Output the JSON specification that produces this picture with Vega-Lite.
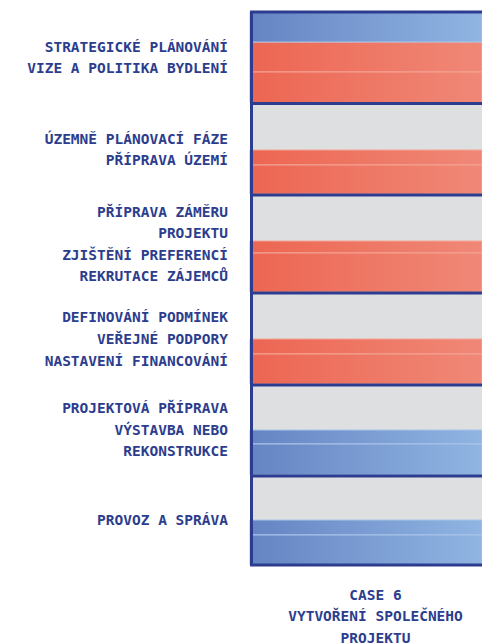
{
  "$schema": "https://vega.github.io/schema/vega-lite/v6.json",
  "autosize": {"type": "none"},
  "padding": {"left": 250, "top": 12, "right": 0, "bottom": 78},
  "width": 232,
  "height": 553,
  "background": "#ffffff",
  "config": {"view": {"stroke": null}},
  "datasets": {
    "segments": [
      {"group": 1, "start": 0, "end": 30, "kind": "blue"},
      {"group": 1, "start": 30, "end": 60, "kind": "red"},
      {"group": 1, "start": 60, "end": 91, "kind": "red"},
      {"group": 2, "start": 92, "end": 138, "kind": "gray"},
      {"group": 2, "start": 138, "end": 153, "kind": "red"},
      {"group": 2, "start": 153, "end": 182, "kind": "red"},
      {"group": 3, "start": 184, "end": 229, "kind": "gray"},
      {"group": 3, "start": 229, "end": 241, "kind": "red"},
      {"group": 3, "start": 241, "end": 280, "kind": "red"},
      {"group": 4, "start": 282, "end": 327, "kind": "gray"},
      {"group": 4, "start": 327, "end": 342, "kind": "red"},
      {"group": 4, "start": 342, "end": 372, "kind": "red"},
      {"group": 5, "start": 374, "end": 418, "kind": "gray"},
      {"group": 5, "start": 418, "end": 432, "kind": "blue"},
      {"group": 5, "start": 432, "end": 463, "kind": "blue"},
      {"group": 6, "start": 465, "end": 508, "kind": "gray"},
      {"group": 6, "start": 508, "end": 523, "kind": "blue"},
      {"group": 6, "start": 523, "end": 553, "kind": "blue"}
    ],
    "borders": [
      {"pos": 0}, {"pos": 91.5}, {"pos": 183}, {"pos": 281}, {"pos": 373}, {"pos": 464}, {"pos": 553}
    ],
    "labels": [
      {"group": 1, "pos": 36, "line": "STRATEGICKÉ PLÁNOVÁNÍ"},
      {"group": 1, "pos": 57, "line": "VIZE A POLITIKA BYDLENÍ"},
      {"group": 2, "pos": 128, "line": "ÚZEMNĚ PLÁNOVACÍ FÁZE"},
      {"group": 2, "pos": 149, "line": "PŘÍPRAVA ÚZEMÍ"},
      {"group": 3, "pos": 201, "line": "PŘÍPRAVA ZÁMĚRU"},
      {"group": 3, "pos": 222, "line": "PROJEKTU"},
      {"group": 3, "pos": 244, "line": "ZJIŠTĚNÍ PREFERENCÍ"},
      {"group": 3, "pos": 265, "line": "REKRUTACE ZÁJEMCŮ"},
      {"group": 4, "pos": 306, "line": "DEFINOVÁNÍ PODMÍNEK"},
      {"group": 4, "pos": 328, "line": "VEŘEJNÉ PODPORY"},
      {"group": 4, "pos": 350, "line": "NASTAVENÍ FINANCOVÁNÍ"},
      {"group": 5, "pos": 397, "line": "PROJEKTOVÁ PŘÍPRAVA"},
      {"group": 5, "pos": 419, "line": "VÝSTAVBA NEBO"},
      {"group": 5, "pos": 440, "line": "REKONSTRUKCE"},
      {"group": 6, "pos": 509, "line": "PROVOZ A SPRÁVA"}
    ]
  },
  "layer": [
    {
      "data": {"name": "segments"},
      "transform": [{"filter": "datum.kind === 'gray'"}],
      "mark": {"type": "rect", "color": "#dedfe1"},
      "encoding": {
        "x": {"datum": 0, "type": "quantitative", "scale": {"domain": [0, 1], "nice": false},
          "axis": {"domain": false, "ticks": false, "labels": false, "grid": false,
            "title": ["CASE 6", "VYTVOŘENÍ SPOLEČNÉHO", "PROJEKTU"],
            "titleFont": "DejaVu Sans Mono", "titleFontSize": 14.5, "titleFontWeight": "bold",
            "titleColor": "#2c3d8e", "titleLineHeight": 21.5, "titlePadding": 23, "titleX": 125}},
        "x2": {"datum": 1},
        "y": {"field": "start", "type": "quantitative", "scale": {"domain": [0, 553], "nice": false, "zero": false, "reverse": true}, "axis": null},
        "y2": {"field": "end"}
      }
    },
    {
      "data": {"name": "segments"},
      "transform": [{"filter": "datum.kind === 'red'"}],
      "mark": {"type": "rect", "stroke": "#f4a595", "strokeWidth": 1,
        "color": {"gradient": "linear", "x1": 0, "y1": 0, "x2": 1, "y2": 0,
          "stops": [{"offset": 0, "color": "#ec6652"}, {"offset": 1, "color": "#f08877"}]}},
      "encoding": {
        "x": {"datum": 0, "type": "quantitative"},
        "x2": {"datum": 1},
        "y": {"field": "start", "type": "quantitative"},
        "y2": {"field": "end"}
      }
    },
    {
      "data": {"name": "segments"},
      "transform": [{"filter": "datum.kind === 'blue'"}],
      "mark": {"type": "rect", "stroke": "#aac5ea", "strokeWidth": 1,
        "color": {"gradient": "linear", "x1": 0, "y1": 0, "x2": 1, "y2": 0,
          "stops": [{"offset": 0, "color": "#6584c3"}, {"offset": 1, "color": "#90b5e2"}]}},
      "encoding": {
        "x": {"datum": 0, "type": "quantitative"},
        "x2": {"datum": 1},
        "y": {"field": "start", "type": "quantitative"},
        "y2": {"field": "end"}
      }
    },
    {
      "data": {"name": "borders"},
      "mark": {"type": "rule", "color": "#2c3d8f", "strokeWidth": 3},
      "encoding": {
        "y": {"field": "pos", "type": "quantitative"}
      }
    },
    {
      "data": {"values": [{"edge": 0}]},
      "mark": {"type": "rule", "color": "#2c3d8f", "strokeWidth": 3, "xOffset": 1.5},
      "encoding": {
        "x": {"field": "edge", "type": "quantitative"}
      }
    },
    {
      "data": {"name": "labels"},
      "mark": {"type": "text", "align": "right", "baseline": "middle", "dx": -22,
        "font": "DejaVu Sans Mono", "fontSize": 14.5, "fontWeight": "bold", "color": "#2c3d8e"},
      "encoding": {
        "x": {"datum": 0, "type": "quantitative"},
        "y": {"field": "pos", "type": "quantitative"},
        "text": {"field": "line"}
      }
    }
  ]
}
